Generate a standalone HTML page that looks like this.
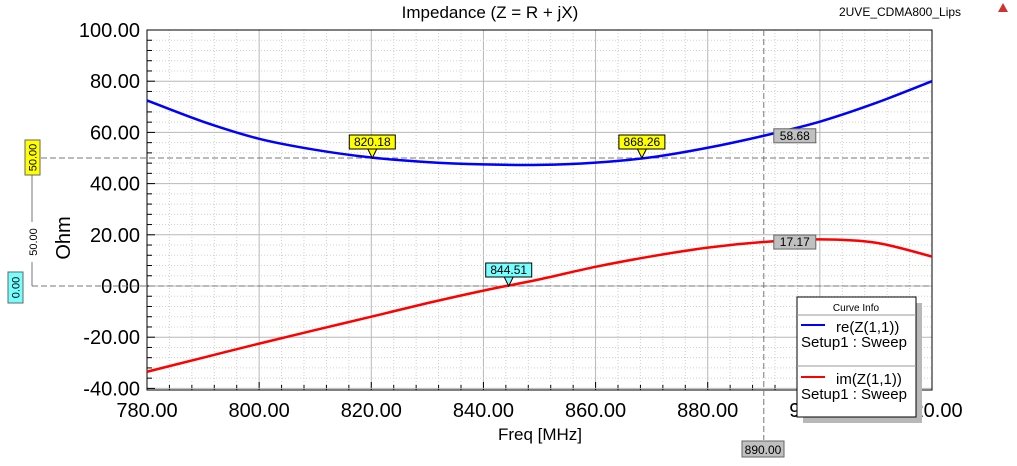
<!DOCTYPE html>
<html><head><meta charset="utf-8"><style>
body{margin:0;background:#fff;width:1017px;height:461px;overflow:hidden;font-family:"Liberation Sans",sans-serif}
svg text{font-family:"Liberation Sans",sans-serif}
</style></head><body>
<svg id="c" width="1017" height="461" xmlns="http://www.w3.org/2000/svg"></svg>
<script>
const freqs=[780,790,800,810,820,830,840,850,860,870,880,890,900,910,920];
const reVals=[72.5,64.2,57.5,53.2,50.2,48.4,47.5,47.3,48.2,50.3,54,58.7,64.2,71.5,80];
const imVals=[-33.5,-28,-22.5,-17.2,-12,-6.7,-1.8,2.6,7.5,11.6,15.0,17.2,18.2,16.9,11.5];
const xTicks=["780.00","800.00","820.00","840.00","860.00","880.00","900.00","920.00"];
const yTicks=["-40.00","-20.00","0.00","20.00","40.00","60.00","80.00","100.00"];
const L=147,R=932,T=30,B=390;
const X=f=>L+(f-780)/140*(R-L);
const Y=v=>286-v*2.56;
const svg=document.getElementById('c');const NS='http://www.w3.org/2000/svg';
function el(t,a,p){const e=document.createElementNS(NS,t);for(const k in a)e.setAttribute(k,a[k]);(p||svg).appendChild(e);return e;}
for(let f=780;f<=920;f+=4){const x=X(f);const major=(f-780)%20===0;
 const g=el('line',{x1:x,x2:x,y1:T,y2:B,stroke:major?'#b8b8b8':'#d8c8d8','stroke-dasharray':major?'':'1,2'});
 
 const tk=el('line',{x1:x,x2:x,y1:B,y2:B-(major?8:5),stroke:'#000'});
 }
for(let v=-40;v<=100;v+=4){const y=Y(v);const major=(v+40)%20===0;
 const g=el('line',{x1:L,x2:R,y1:y,y2:y,stroke:major?'#b8b8b8':'#c8d8c8','stroke-dasharray':major?'':'1,2'});
 
 const tk=el('line',{x1:L,x2:L+(major?8:5),y1:y,y2:y,stroke:'#000'});
 }
const fr=el('rect',{x:L,y:T,width:R-L,height:B-T,fill:'none',stroke:'#000'});

xTicks.forEach(t=>{const e=el('text',{x:X(parseFloat(t)),y:417,'font-size':20,'text-anchor':'middle'});e.textContent=t;
 });
yTicks.forEach(t=>{const e=el('text',{x:140,y:Y(parseFloat(t))+7,'font-size':20,'text-anchor':'end'});e.textContent=t;
 });
let e=el('text',{x:540,y:440,'font-size':17,'text-anchor':'middle'});e.textContent='Freq [MHz]';

e=el('text',{x:0,y:0,'font-size':20,'text-anchor':'middle',transform:'translate(70,238) rotate(-90)'});e.textContent='Ohm';

e=el('text',{x:490,y:18,'font-size':17,'text-anchor':'middle'});e.textContent='Impedance (Z = R + jX)';

e=el('text',{x:900,y:16,'font-size':12,'text-anchor':'middle'});e.textContent='2UVE_CDMA800_Lips';

e=el('polygon',{points:'998,12 1003,3 1008,12',fill:'#c33'});

e=el('line',{x1:32,x2:R,y1:Y(50),y2:Y(50),stroke:'#777','stroke-dasharray':'6,3'});

e=el('line',{x1:32,x2:R,y1:Y(0),y2:Y(0),stroke:'#777','stroke-dasharray':'6,3'});

e=el('line',{x1:32,x2:32,y1:175,y2:Y(0),stroke:'#777'});

e=el('rect',{x:27,y:222,width:10,height:40,fill:'#fff'});
e=el('text',{x:0,y:0,'font-size':11,'text-anchor':'middle',transform:'translate(37,242) rotate(-90)'});e.textContent='50.00';

e=el('line',{x1:X(890),x2:X(890),y1:T,y2:440,stroke:'#777','stroke-dasharray':'6,3'});

function vlabel(x,y,w,h,fill,txt,name){const r=el('rect',{x,y,width:w,height:h,fill,stroke:'#666'});
 
 const t=el('text',{x:0,y:0,'font-size':11,'text-anchor':'middle',transform:`translate(${x+w/2+4},${y+h/2}) rotate(-90)`});t.textContent=txt;}
vlabel(25,140,15,35,'#ffff00','50.00','y-marker-50-label');
vlabel(8,272,15,31,'#7ff','0.00','y-marker-0-label');
function smooth(vals,color,name){const pts=freqs.map((f,i)=>[X(f),Y(vals[i])]);let d='M'+pts[0];
 for(let i=0;i<pts.length-1;i++){const p0=pts[i-1]||pts[i],p1=pts[i],p2=pts[i+1],p3=pts[i+2]||p2;
  d+=` C${p1[0]+(p2[0]-p0[0])/6},${p1[1]+(p2[1]-p0[1])/6} ${p2[0]-(p3[0]-p1[0])/6},${p2[1]-(p3[1]-p1[1])/6} ${p2[0]},${p2[1]}`;}
 const p=el('path',{d,fill:'none',stroke:color,'stroke-width':2.5});
 }
smooth(reVals,'#0000ff','re-z11-curve');
smooth(imVals,'#ff0000','im-z11-curve');
function marker(f,v,fill,txt,name){const x=X(f),y=Y(v);
 const g=el('g',{});
 el('polygon',{points:`${x-5},${y-10} ${x+5},${y-10} ${x},${y}`,fill,stroke:'#000'},g);
 el('rect',{x:x-23,y:y-23,width:46,height:14,fill,stroke:'#000'},g);
 const t=el('text',{x,y:y-12,'font-size':12,'text-anchor':'middle'},g);t.textContent=txt;}
marker(820.18,50,'#ffff00','820.18','marker-820');
marker(868.26,50,'#ffff00','868.26','marker-868');
marker(844.51,0,'#7ff','844.51','marker-844');
function sideLabel(v,txt,name){const x=X(890)+10,y=Y(v);
 const g=el('g',{});
 el('rect',{x,y:y-7,width:42,height:14,fill:'#c0c0c0',stroke:'#666'},g);
 const t=el('text',{x:x+21,y:y+4,'font-size':12,'text-anchor':'middle'},g);t.textContent=txt;}
sideLabel(58.68,'58.68','marker-890-re');
sideLabel(17.17,'17.17','marker-890-im');
e=el('g',{});
el('rect',{x:742,y:441,width:42,height:16,fill:'#c0c0c0',stroke:'#666'},e);
let t=el('text',{x:763,y:454,'font-size':12,'text-anchor':'middle'},e);t.textContent='890.00';
const lg=el('g',{});
el('rect',{x:803,y:303,width:119,height:120,fill:'#b8b8b8'},lg);
el('rect',{x:797,y:297,width:119,height:120,fill:'#fff',stroke:'#000'},lg);
t=el('text',{x:856,y:311,'font-size':10,'text-anchor':'middle'},lg);t.textContent='Curve Info';
el('line',{x1:797,x2:916,y1:315,y2:315,stroke:'#999'},lg);
el('line',{x1:797,x2:916,y1:366,y2:366,stroke:'#999'},lg);
const le1=el('g',{},lg);
el('line',{x1:801,x2:825,y1:325,y2:325,stroke:'#00f','stroke-width':2},le1);
t=el('text',{x:836,y:332,'font-size':15},le1);t.textContent='re(Z(1,1))';
t=el('text',{x:801,y:347,'font-size':15},le1);t.textContent='Setup1 : Sweep';
const le2=el('g',{},lg);
el('line',{x1:801,x2:825,y1:377,y2:377,stroke:'#f00','stroke-width':2},le2);
t=el('text',{x:836,y:384,'font-size':15},le2);t.textContent='im(Z(1,1))';
t=el('text',{x:801,y:399,'font-size':15},le2);t.textContent='Setup1 : Sweep';
</script>
</body></html>
